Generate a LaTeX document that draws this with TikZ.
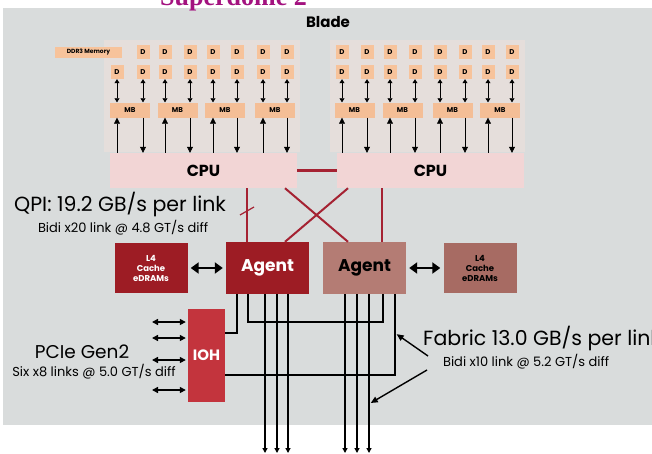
\documentclass[tikz,border=0pt]{standalone}
\usepackage{fontspec}
\setmainfont{Poppins}
\newfontfamily\titlefont{Liberation Serif}
\usetikzlibrary{positioning,arrows.meta}
\definecolor{panel}{HTML}{D9DCDC}
\definecolor{memback}{HTML}{E5DEDB}
\definecolor{dimmorange}{HTML}{F7C39B}
\definecolor{mborange}{HTML}{F4BE96}
\definecolor{cpupink}{HTML}{F2D5D5}
\definecolor{qpired}{HTML}{A52232}
\definecolor{agentred}{HTML}{9D1C24}
\definecolor{agentbrown}{HTML}{B47C74}
\definecolor{cachebrown}{HTML}{A76B63}
\definecolor{iohred}{HTML}{C3343D}
\definecolor{titlepurple}{HTML}{A3127F}

\begin{document}
\begin{tikzpicture}[x=1pt,y=-1pt,
	dimm/.style={fill=dimmorange,minimum width=13pt,minimum height=14pt,inner sep=0pt,font=\fontsize{7}{7}\selectfont\bfseries},
	mbuf/.style={fill=mborange,minimum width=40pt,minimum height=15pt,inner sep=0pt,font=\fontsize{7}{7}\selectfont\bfseries},
	cpubox/.style={fill=cpupink,minimum width=187pt,minimum height=35pt,inner sep=0pt,font=\fontsize{16}{16}\selectfont\bfseries},
	agentbox/.style={minimum width=83pt,minimum height=52pt,inner sep=0pt,font=\fontsize{17}{17}\selectfont\bfseries},
	cachebox/.style={minimum width=73pt,minimum height=50pt,inner sep=0pt,align=center,font=\fontsize{8.5}{10}\selectfont\bfseries},
	memlink/.style={-{Triangle[width=6pt,length=6pt]},line width=0.6pt},
	memdual/.style={{Triangle[width=5pt,length=4pt]}-{Triangle[width=5pt,length=4pt]},line width=0.6pt},
	biglink/.style={{Triangle[width=11pt,length=8pt]}-{Triangle[width=11pt,length=8pt]},line width=2.8pt,shorten <=3pt,shorten >=3pt},
	pcielink/.style={{Triangle[width=6pt,length=6pt]}-{Triangle[width=6pt,length=6pt]},line width=1.4pt,shorten >=2pt},
	fabric/.style={line width=1.5pt},
	outlink/.style={fabric,-{Triangle[width=5pt,length=5pt]}},
	leader/.style={line width=1.4pt,-{Triangle[width=6pt,length=7pt]},shorten >=2pt},
	qpi/.style={qpired,line width=2.5pt},
	bigtext/.style={font=\fontsize{20.5}{21}\selectfont,inner sep=0pt},
	smalltext/.style={font=\fontsize{13}{13}\selectfont,inner sep=0pt}]
	\useasboundingbox (0,0) rectangle (652,453);
	\fill[white] (0,0) rectangle (652,453);
	\fill[panel] (3,8) rectangle (652,425);
	\fill[memback] (104,40) rectangle (300,152);
	\fill[memback] (330,40) rectangle (525,152);
	\node[anchor=base west,inner sep=0pt,text=titlepurple,font=\fontsize{26}{26}\selectfont\titlefont\bfseries] (title) at (160,5) {Superdome 2};
	\node[inner sep=1pt,font=\fontsize{15}{15}\selectfont\bfseries] (blade) at (328,22) {Blade};
	\node[dimm,minimum width=67pt,minimum height=11pt,font=\fontsize{6}{6}\selectfont\bfseries] (dimmlbl) at (88.5,52) {DDR3 Memory};
	\foreach \x [count=\i] in {117,143,165,190,213,237,263,287,342,367,390,415,440,465,488,512} {
		\ifnum\i>1 \node[dimm] (d1-\i) at (\x,52) {D}; \fi
		\node[dimm] (d2-\i) at (\x,72) {D};
	}
	\node[cpubox] (cpuL) at (203.5,170.5) {CPU};
	\node[cpubox] (cpuR) at (430.5,170.5) {CPU};
	\foreach \c [count=\j, evaluate=\j as \a using {int(2*\j-1)}, evaluate=\j as \b using {int(2*\j)}] in {130,177.5,225,275,354.5,402.5,452.5,500} {
		\node[mbuf] (mb\j) at (\c,110) {MB};
		\draw[memdual] (d2-\a.south) -- (d2-\a.south |- mb\j.north);
		\draw[memdual] (d2-\b.south) -- (d2-\b.south |- mb\j.north);
		\draw[memlink] (d2-\a.south |- cpuL.north) -- (d2-\a.south |- mb\j.south);
		\draw[memlink] (d2-\b.south |- mb\j.south) -- (d2-\b.south |- cpuL.north);
	}
	\node[agentbox,fill=agentred,text=white] (agL) at (267.5,268) {Agent};
	\node[agentbox,fill=agentbrown] (agR) at (364.5,268) {Agent};
	\node[cachebox,fill=agentred,text=white] (l4L) at (151,268) {L4\\Cache\\eDRAMs};
	\node[cachebox,fill=cachebrown] (l4R) at (480,268) {L4\\Cache\\eDRAMs};
	\node[fill=iohred,text=white,minimum width=37pt,minimum height=93pt,inner sep=0pt,font=\fontsize{15}{15}\selectfont\bfseries] (ioh) at (206.5,355.5) {IOH};
	\coordinate (qL) at (247,0);
	\coordinate (qR) at (382,0);
	\coordinate (xa) at (285,0);
	\coordinate (xb) at (348,0);
	\draw[qpi] (cpuL.east) -- (cpuR.west);
	\draw[qpi,line width=2pt] (cpuL.south -| qL) -- (agL.north -| qL);
	\draw[qpi,line width=2pt] (cpuR.south -| qR) -- (agR.north -| qR);
	\draw[qpi,line width=2pt] (cpuL.south -| xa) -- (agR.north -| xb);
	\draw[qpi,line width=2pt] (cpuR.south -| xb) -- (agL.north -| xa);
	\draw[qpired,line width=1.2pt] (240,215) -- (254,207);
	\draw[biglink] (l4L.east) -- (agL.west);
	\draw[biglink] (agR.east) -- (l4R.west);
	\foreach \y in {322,338,360,390} {
		\coordinate (p\y) at (152,\y);
		\draw[pcielink] (p\y) -- (ioh.west |- p\y);
	}
	\coordinate (fa) at (237,333);
	\coordinate (fb) at (248,322);
	\coordinate (fc) at (383,322);
	\coordinate (fd) at (395,375);
	\draw[fabric] (agL.south -| fa) -- (fa) -- (ioh.east |- fa);
	\draw[fabric] (agL.south -| fb) -- (fb) -- (fc) -- (agR.south -| fc);
	\draw[fabric] (agR.south -| fd) -- (fd) -- (ioh.east |- fd);
	\foreach \x in {265,277,288} {
		\coordinate (o\x) at (\x,453);
		\draw[outlink] (agL.south -| o\x) -- (o\x);
	}
	\foreach \x in {345,357,369} {
		\coordinate (o\x) at (\x,453);
		\draw[outlink] (agR.south -| o\x) -- (o\x);
	}
	\node[bigtext,anchor=west] (qpitxt) at (14,205) {QPI: 19.2 GB/s per link};
	\node[smalltext,below=3pt of qpitxt,xshift=3pt] (qpisub) {Bidi x20 link @ 4.8 GT/s diff};
	\node[bigtext,font=\fontsize{18.5}{19}\selectfont] (pcie) at (82,352) {PCIe Gen2};
	\node[smalltext,below=5pt of pcie,xshift=12pt] (pciesub) {Six x8 links @ 5.0 GT/s diff};
	\node[bigtext,anchor=west] (fab) at (423,339) {Fabric 13.0 GB/s per link};
	\node[smalltext,below=3pt of fab,xshift=-16pt] (fabsub) {Bidi x10 link @ 5.2 GT/s diff};
	\coordinate (fl1) at (428,356);
	\coordinate (fl2) at (427,370);
	\coordinate (ft2) at (369,404);
	\draw[leader] (fl1) -- (fd |- fa);
	\draw[leader] (fl2) -- (ft2);
\end{tikzpicture}
\end{document}
